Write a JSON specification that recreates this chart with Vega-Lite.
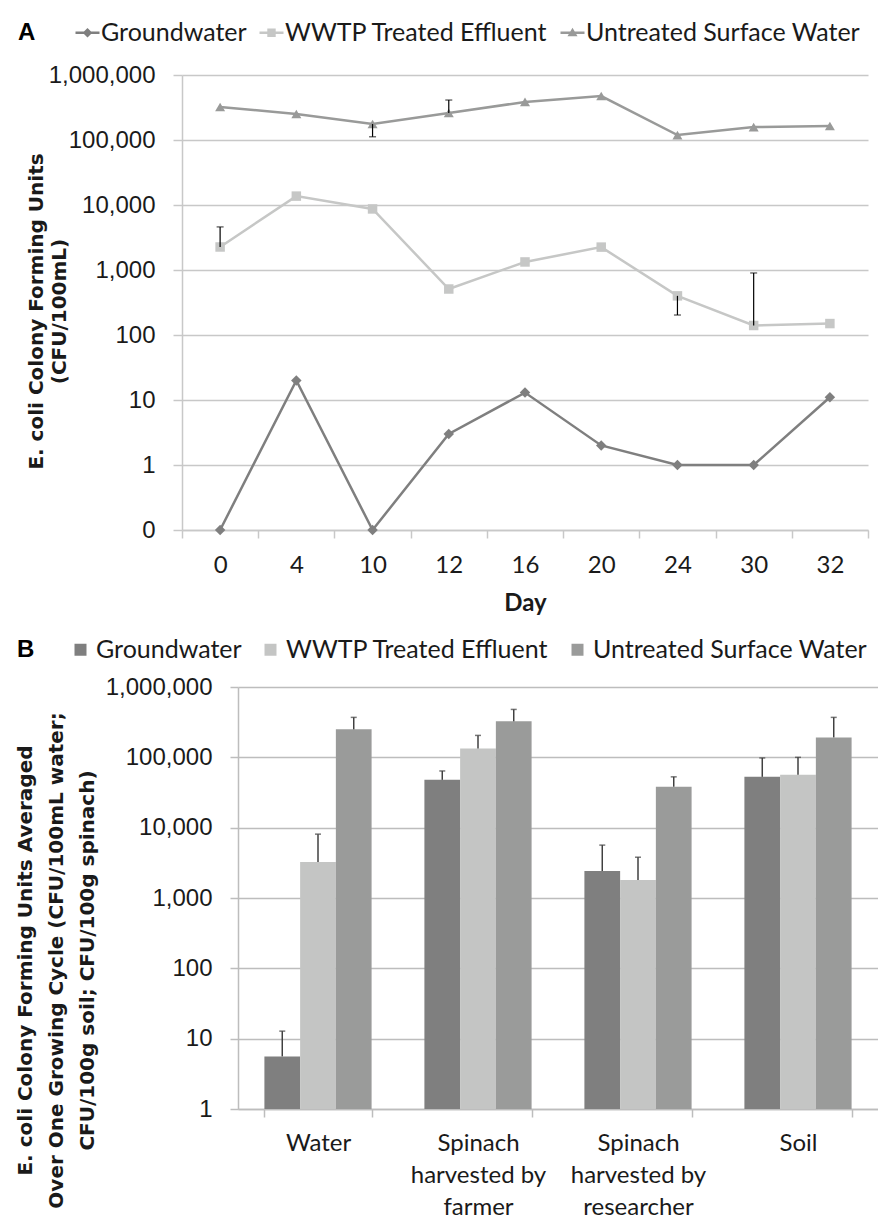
{
  "$schema": "https://vega.github.io/schema/vega-lite/v6.json",
  "padding": {"left": 14, "top": 20, "right": 0, "bottom": 0},
  "config": {"view": {"stroke": null}, "font": "Lato"},
  "spacing": 22,
  "resolve": {
    "scale": {"color": "independent", "shape": "independent"},
    "legend": {"color": "independent", "shape": "independent"}
  },
  "datasets": {
    "lines": [
      {"day": 0, "series": "Groundwater", "cfu": 0.1},
      {"day": 4, "series": "Groundwater", "cfu": 20},
      {"day": 10, "series": "Groundwater", "cfu": 0.1},
      {"day": 12, "series": "Groundwater", "cfu": 3},
      {"day": 16, "series": "Groundwater", "cfu": 13},
      {"day": 20, "series": "Groundwater", "cfu": 2},
      {"day": 24, "series": "Groundwater", "cfu": 1},
      {"day": 30, "series": "Groundwater", "cfu": 1},
      {"day": 32, "series": "Groundwater", "cfu": 11},
      {"day": 0, "series": "WWTP Treated Effluent", "cfu": 2260},
      {"day": 4, "series": "WWTP Treated Effluent", "cfu": 13700},
      {"day": 10, "series": "WWTP Treated Effluent", "cfu": 8700},
      {"day": 12, "series": "WWTP Treated Effluent", "cfu": 510},
      {"day": 16, "series": "WWTP Treated Effluent", "cfu": 1330},
      {"day": 20, "series": "WWTP Treated Effluent", "cfu": 2250},
      {"day": 24, "series": "WWTP Treated Effluent", "cfu": 400},
      {"day": 30, "series": "WWTP Treated Effluent", "cfu": 140},
      {"day": 32, "series": "WWTP Treated Effluent", "cfu": 150},
      {"day": 0, "series": "Untreated Surface Water", "cfu": 322000},
      {"day": 4, "series": "Untreated Surface Water", "cfu": 251000},
      {"day": 10, "series": "Untreated Surface Water", "cfu": 176000},
      {"day": 12, "series": "Untreated Surface Water", "cfu": 260000},
      {"day": 16, "series": "Untreated Surface Water", "cfu": 385000},
      {"day": 20, "series": "Untreated Surface Water", "cfu": 475000},
      {"day": 24, "series": "Untreated Surface Water", "cfu": 119000},
      {"day": 30, "series": "Untreated Surface Water", "cfu": 158000},
      {"day": 32, "series": "Untreated Surface Water", "cfu": 164000}
    ],
    "errA": [
      {"day": 10, "series": "Untreated Surface Water", "cfu": 176000, "err": 112000},
      {"day": 12, "series": "Untreated Surface Water", "cfu": 260000, "err": 412000},
      {"day": 0, "series": "WWTP Treated Effluent", "cfu": 2260, "err": 4600},
      {"day": 24, "series": "WWTP Treated Effluent", "cfu": 400, "err": 203},
      {"day": 30, "series": "WWTP Treated Effluent", "cfu": 140, "err": 900}
    ],
    "bars": [
      {"sample": "Water", "series": "Groundwater", "cfu": 5.6, "err": 12.8},
      {"sample": "Water", "series": "WWTP Treated Effluent", "cfu": 3240, "err": 8090},
      {"sample": "Water", "series": "Untreated Surface Water", "cfu": 250000, "err": 370000},
      {"sample": "Spinach harvested by farmer", "series": "Groundwater", "cfu": 47900, "err": 64000},
      {"sample": "Spinach harvested by farmer", "series": "WWTP Treated Effluent", "cfu": 134000, "err": 205000},
      {"sample": "Spinach harvested by farmer", "series": "Untreated Surface Water", "cfu": 325000, "err": 480000},
      {"sample": "Spinach harvested by researcher", "series": "Groundwater", "cfu": 2420, "err": 5650},
      {"sample": "Spinach harvested by researcher", "series": "WWTP Treated Effluent", "cfu": 1800, "err": 3800},
      {"sample": "Spinach harvested by researcher", "series": "Untreated Surface Water", "cfu": 38200, "err": 52800},
      {"sample": "Soil", "series": "Groundwater", "cfu": 52800, "err": 98000},
      {"sample": "Soil", "series": "WWTP Treated Effluent", "cfu": 56600, "err": 100000},
      {"sample": "Soil", "series": "Untreated Surface Water", "cfu": 192000, "err": 370000}
    ]
  },
  "vconcat": [
    {
      "width": 686,
      "height": 455,
      "data": {"name": "lines"},
      "encoding": {
        "x": {
          "field": "day", "type": "ordinal",
          "scale": {"type": "band", "paddingInner": 0, "paddingOuter": 0},
          "axis": {
            "title": "Day", "titleFont": "Lato", "titleFontSize": 24, "titleFontWeight": "bold", "titleColor": "#1a1a1a", "titlePadding": 14,
            "labelFont": "Lato", "labelFontSize": 24, "labelColor": "#1a1a1a", "labelAngle": 0, "labelPadding": 15,
            "tickBand": "extent", "tickSize": 8, "tickColor": "#c8c8c8", "tickWidth": 1.5,
            "domainColor": "#c8c8c8", "domainWidth": 1.5, "grid": false
          }
        },
        "y": {
          "field": "cfu", "type": "quantitative",
          "scale": {"type": "log", "domain": [0.1, 1000000]},
          "axis": {
            "values": [0.1, 1, 10, 100, 1000, 10000, 100000, 1000000],
            "labelExpr": "datum.value < 0.5 ? '0' : format(datum.value, ',')",
            "labelFont": "Liberation Sans", "labelFontSize": 24, "labelColor": "#1a1a1a", "labelPadding": 18,
            "tickSize": 9, "tickColor": "#c8c8c8", "tickWidth": 1.5,
            "domainColor": "#c8c8c8", "domainWidth": 1.5,
            "grid": true, "gridColor": "#c8c8c8", "gridWidth": 1.5,
            "title": ["E. coli Colony Forming Units", "(CFU/100mL)"],
            "titleFont": "DejaVu Sans", "titleFontSize": 20, "titleFontWeight": "bold", "titleColor": "#1a1a1a",
            "titleLineHeight": 23, "titleX": -136, "titleY": 236
          }
        }
      },
      "layer": [
        {
          "mark": {"type": "line", "strokeWidth": 2.5},
          "encoding": {
            "color": {
              "field": "series", "type": "nominal",
              "scale": {"domain": ["Groundwater", "WWTP Treated Effluent", "Untreated Surface Water"], "range": ["#7f7f7f", "#c6c7c6", "#999a99"]},
              "legend": {
                "orient": "none", "legendX": -164, "legendY": -55, "direction": "horizontal",
                "title": "A", "titleOrient": "left", "titleFont": "Liberation Sans", "titleFontSize": 24, "titleFontWeight": "bold", "titleColor": "#000000", "titlePadding": 39,
                "labelFont": "Lato", "labelFontSize": 25, "labelColor": "#1a1a1a", "labelOffset": 1, "columnPadding": 12, "labelLimit": 400,
                "symbolSize": 576, "symbolStrokeWidth": 0
              }
            }
          }
        },
        {
          "transform": [{"filter": "datum.series === 'Groundwater'"}],
          "mark": {"type": "point", "filled": true, "size": 110, "opacity": 1, "shape": "diamond", "strokeWidth": 0},
          "encoding": {"color": {"field": "series", "type": "nominal"}}
        },
        {
          "transform": [{"filter": "datum.series === 'WWTP Treated Effluent'"}],
          "mark": {"type": "point", "filled": true, "size": 90, "opacity": 1, "shape": "square", "strokeWidth": 0},
          "encoding": {"color": {"field": "series", "type": "nominal"}}
        },
        {
          "transform": [{"filter": "datum.series === 'Untreated Surface Water'"}],
          "mark": {"type": "point", "filled": true, "size": 100, "opacity": 1, "shape": "triangle-up", "strokeWidth": 0},
          "encoding": {"color": {"field": "series", "type": "nominal"}}
        },
        {
          "transform": [{"filter": "false"}],
          "mark": {"type": "point", "filled": true, "strokeWidth": 0},
          "encoding": {
            "color": {"field": "series", "type": "nominal"},
            "shape": {
              "field": "series", "type": "nominal",
              "scale": {
                "domain": ["Groundwater", "WWTP Treated Effluent", "Untreated Surface Water"],
                "range": [
                  "M-1,-0.1H1V0.1H-1Z M0,-0.4L0.4,0L0,0.4L-0.4,0Z",
                  "M-1,-0.1H1V0.1H-1Z M-0.35,-0.35H0.35V0.35H-0.35Z",
                  "M-1,-0.1H1V0.1H-1Z M0,-0.42L0.42,0.3H-0.42Z"
                ]
              },
              "legend": {
                "orient": "none", "legendX": -164, "legendY": -55, "direction": "horizontal",
                "title": "A", "titleOrient": "left", "titleFont": "Liberation Sans", "titleFontSize": 24, "titleFontWeight": "bold", "titleColor": "#000000", "titlePadding": 39,
                "labelFont": "Lato", "labelFontSize": 25, "labelColor": "#1a1a1a", "labelOffset": 1, "columnPadding": 12, "labelLimit": 400,
                "symbolSize": 576, "symbolStrokeWidth": 0
              }
            }
          }
        },
        {
          "data": {"name": "errA"},
          "mark": {"type": "rule", "color": "#000000", "strokeWidth": 1.2},
          "encoding": {
            "y2": {"field": "err"}
          }
        },
        {
          "data": {"name": "errA"},
          "mark": {"type": "tick", "color": "#000000", "thickness": 1.2, "size": 7},
          "encoding": {
            "y": {"field": "err", "type": "quantitative"}
          }
        }
      ]
    },
    {
      "width": 696,
      "height": 422,
      "data": {"name": "bars"},
      "encoding": {
        "x": {
          "field": "sample", "type": "nominal",
          "sort": null,
          "scale": {"type": "band", "paddingInner": 0.33, "paddingOuter": 0.165, "range": [56, 696]},
          "axis": {
            "title": null,
            "labelExpr": "indexof(datum.label, 'Spinach') === 0 ? ['Spinach', 'harvested by', slice(datum.label, 21)] : datum.label",
            "labelFont": "Lato", "labelFontSize": 24, "labelColor": "#1a1a1a", "labelAngle": 0, "labelPadding": 14, "labelLineHeight": 32,
            "tickBand": "extent", "tickSize": 8, "tickColor": "#bdbdbd", "tickWidth": 1.5,
            "domainColor": "#bdbdbd", "domainWidth": 1.5, "grid": false
          }
        },
        "xOffset": {
          "field": "series", "type": "nominal",
          "sort": null,
          "scale": {"paddingInner": 0, "paddingOuter": 0}
        },
        "y": {
          "field": "cfu", "type": "quantitative",
          "stack": null,
          "scale": {"type": "log", "domain": [1, 1000000]},
          "axis": {
            "offset": -56,
            "values": [1, 10, 100, 1000, 10000, 100000, 1000000],
            "format": ",",
            "labelFont": "Liberation Sans", "labelFontSize": 24, "labelColor": "#1a1a1a", "labelPadding": 18,
            "tickSize": 8, "tickColor": "#bdbdbd", "tickWidth": 1.5,
            "domainColor": "#bdbdbd", "domainWidth": 1.5,
            "grid": true, "gridColor": "#bdbdbd", "gridWidth": 1.5,
            "title": ["E. coli Colony Forming Units Averaged", "Over One Growing Cycle (CFU/100mL water;", "CFU/100g soil; CFU/100g spinach)"],
            "titleFont": "DejaVu Sans", "titleFontSize": 20, "titleFontWeight": "bold", "titleColor": "#1a1a1a",
            "titleLineHeight": 31, "titleX": -203, "titleY": 273
          }
        }
      },
      "layer": [
        {
          "mark": {"type": "bar"},
          "encoding": {
            "color": {
              "field": "series", "type": "nominal",
              "scale": {"domain": ["Groundwater", "WWTP Treated Effluent", "Untreated Surface Water"], "range": ["#7f7f7f", "#c4c5c4", "#9a9b9a"]},
              "legend": {
                "orient": "none", "legendX": -165, "legendY": -50, "direction": "horizontal",
                "title": "B", "titleOrient": "left", "titleFont": "Liberation Sans", "titleFontSize": 24, "titleFontWeight": "bold", "titleColor": "#000000", "titlePadding": 33,
                "labelFont": "Lato", "labelFontSize": 25, "labelColor": "#1a1a1a", "labelOffset": 3, "columnPadding": 16, "labelLimit": 400,
                "symbolType": "square", "symbolSize": 144, "symbolStrokeWidth": 0
              }
            }
          }
        },
        {
          "mark": {"type": "rule", "color": "#404040", "strokeWidth": 1.5},
          "encoding": {
            "y2": {"field": "err"}
          }
        },
        {
          "mark": {"type": "tick", "color": "#404040", "thickness": 1.5, "size": 6},
          "encoding": {
            "y": {"field": "err", "type": "quantitative"}
          }
        }
      ]
    }
  ]
}
